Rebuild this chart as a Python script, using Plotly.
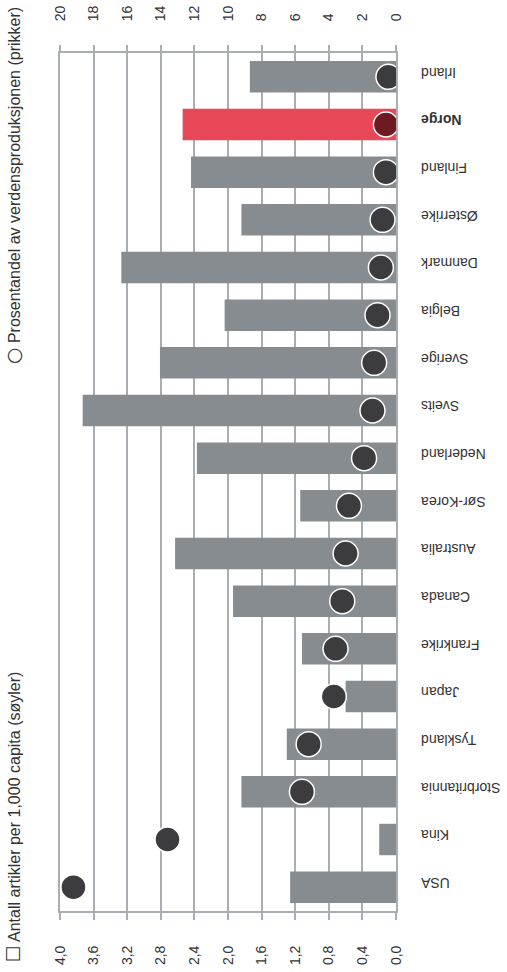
import plotly.graph_objects as go

countries = ["USA", "Kina", "Storbritannia", "Tyskland", "Japan", "Frankrike", "Canada",
             "Australia", "Sør-Korea", "Nederland", "Sveits", "Sverige", "Belgia",
             "Danmark", "Østerrike", "Finland", "Norge", "Irland"]
articles_per_1000 = [1.26, 0.20, 1.84, 1.30, 0.60, 1.12, 1.94, 2.63, 1.14, 2.37, 3.73,
                     2.81, 2.04, 3.27, 1.84, 2.44, 2.54, 1.74]
world_share_pct = [19.2, 13.6, 5.6, 5.2, 3.7, 3.6, 3.2, 3.0, 2.8, 1.9, 1.4,
                   1.3, 1.1, 0.9, 0.8, 0.6, 0.6, 0.45]
highlight = "Norge"

bar_grey = "#878c91"
bar_red = "#e84858"
dot_dark = "#3c3c3f"
dot_red = "#6e1a22"
grid = "#a9aeb3"
text_col = "#333333"

bar_colors = [bar_red if c == highlight else bar_grey for c in countries]
dot_colors = [dot_red if c == highlight else dot_dark for c in countries]
tick_text = ["<b>%s</b>" % c if c == highlight else c for c in countries]

fig = go.Figure()
fig.add_trace(go.Bar(
    y=countries, x=articles_per_1000, orientation="h",
    marker=dict(color=bar_colors, line=dict(width=0)),
    xaxis="x", yaxis="y", showlegend=False, hoverinfo="x+y"))
fig.add_trace(go.Scatter(
    y=countries, x=world_share_pct, mode="markers",
    marker=dict(size=25, color=dot_colors, line=dict(color="white", width=1.5)),
    xaxis="x2", yaxis="y", showlegend=False))

sym = "<span style=\"font-family:'DejaVu Sans';font-size:19px\">%s</span>"

fig.update_layout(
    width=507, height=972,
    margin=dict(l=60, r=111, t=53, b=61),
    paper_bgcolor="white", plot_bgcolor="white",
    separators=", ",
    bargap=0.34,
    font=dict(family="Liberation Sans, Arial, sans-serif", size=14, color=text_col),
    xaxis=dict(range=[4, 0], dtick=0.4, tick0=0, tickformat=".1f", side="bottom",
               automargin=False,
               showgrid=True, gridcolor=grid, gridwidth=1.5, zeroline=False,
               showline=True, linecolor=grid, linewidth=2,
               ticks="outside", ticklen=7, tickwidth=1.5, tickcolor=grid,
               tickangle=-90, ticklabelstandoff=20,
               tickfont=dict(size=14, color=text_col)),
    xaxis2=dict(range=[20, 0], dtick=2, tick0=0, overlaying="x", side="top",
                automargin=False,
                showgrid=False, zeroline=False,
                showline=True, linecolor=grid, linewidth=2,
                ticks="outside", ticklen=6, tickwidth=1.5, tickcolor=grid,
                tickangle=-90, ticklabelstandoff=21,
                tickfont=dict(size=14, color=text_col)),
    yaxis=dict(categoryorder="array", categoryarray=countries,
               tickmode="array", tickvals=countries, ticktext=tick_text,
               range=[-0.5, len(countries) - 0.5], side="right",
               automargin=False,
               showgrid=False, zeroline=False, showline=True, mirror=True,
               linecolor=grid, linewidth=1.5, ticks="",
               tickangle=180, ticklabelposition="inside", ticklabeloverflow="allow",
               ticklabelstandoff=-25,
               tickfont=dict(size=14, color=text_col)),
    annotations=[
        dict(text=(sym % "○") + " Prosentandel av verdensproduksjonen (prikker)",
             xref="paper", yref="paper", x=-0.14, y=0.846,
             xanchor="center", yanchor="middle", textangle=-90, showarrow=False,
             font=dict(size=16, color=text_col)),
        dict(text=(sym % "☐") + " Antall artikler per 1,000 capita (søyler)",
             xref="paper", yref="paper", x=-0.14, y=0.11,
             xanchor="center", yanchor="middle", textangle=-90, showarrow=False,
             font=dict(size=16, color=text_col)),
    ],
)

fig.write_html("out.html", config={"displayModeBar": False},
               post_script="document.body.style.margin='0';document.body.style.overflow='hidden';")
